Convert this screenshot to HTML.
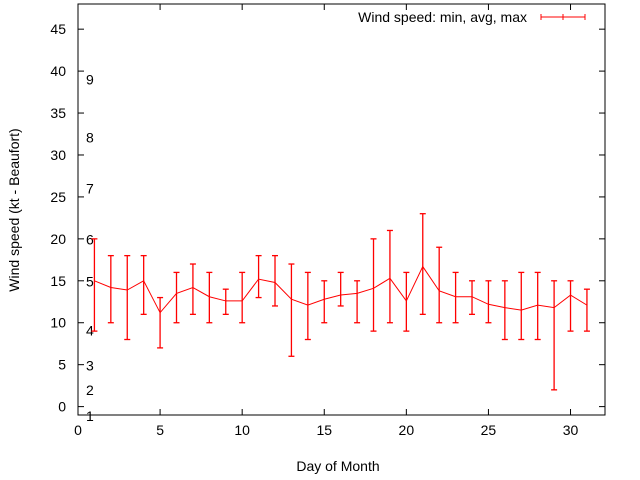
<!DOCTYPE html>
<html><head><meta charset="utf-8"><style>body{margin:0;background:#fff}svg{display:block;font-family:"Liberation Sans",sans-serif}</style></head>
<body>
<svg id="chart" width="640" height="480"></svg>
<script>
const days=[1,2,3,4,5,6,7,8,9,10,11,12,13,14,15,16,17,18,19,20,21,22,23,24,25,26,27,28,29,30,31];
const avgSpeed=[15,14.2,13.9,15,11.2,13.5,14.2,13.1,12.6,12.6,15.2,14.8,12.8,12.1,12.8,13.3,13.5,14.1,15.3,12.6,16.7,13.8,13.1,13.1,12.2,11.8,11.5,12.1,11.8,13.3,12.1];
const minSpeed=[9,10,8,11,7,10,11,10,11,10,13,12,6,8,10,12,10,9,10,9,11,10,10,11,10,8,8,8,2,9,9];
const maxSpeed=[20,18,18,18,13,16,17,16,14,16,18,18,17,16,15,16,15,20,21,16,23,19,16,15,15,15,16,16,15,15,14];
const xTicks=[0,5,10,15,20,25,30];
const yTicks=[0,5,10,15,20,25,30,35,40,45];
const beaufortLabels=["1","2","3","4","5","6","7","8","9"];
const beaufortPos=[-1.1,2,4.9,9.1,14.9,19.9,26,32.1,39];
const L=78,R=605,T=4,B=415,x0=0,x1=32.1,y0=-1,y1=48;
const X=v=>L+(v-x0)/(x1-x0)*(R-L);
const Y=v=>B-(v-y0)/(y1-y0)*(B-T);
const svg=document.getElementById('chart');
const NS='http://www.w3.org/2000/svg';
function mk(tag,a,txt){const e=document.createElementNS(NS,tag);for(const k in a)e.setAttribute(k,a[k]);if(txt!==undefined)e.textContent=txt;svg.appendChild(e);return e;}
let e;
e=mk('rect',{x:L,y:T,width:R-L,height:B-T,fill:'none',stroke:'#000','stroke-width':1});


xTicks.forEach(t=>{
 e=mk('line',{x1:X(t),x2:X(t),y1:B,y2:B-6,stroke:'#000'});
 
 
 e=mk('line',{x1:X(t),x2:X(t),y1:T,y2:T+6,stroke:'#000'});
 
 
 e=mk('text',{x:X(t),y:B+20,'text-anchor':'middle','font-size':14,fill:'#000'},String(t));
 
 
});
yTicks.forEach(t=>{
 e=mk('line',{x1:L,x2:L+6,y1:Y(t),y2:Y(t),stroke:'#000'});
 
 
 e=mk('line',{x1:R,x2:R-6,y1:Y(t),y2:Y(t),stroke:'#000'});
 
 
 e=mk('text',{x:L-12,y:Y(t)+5,'text-anchor':'end','font-size':14,fill:'#000'},String(t));
 
 
});
beaufortLabels.forEach((s,i)=>{
 e=mk('text',{x:86,y:Y(beaufortPos[i])+5,'font-size':14,fill:'#000'},s);
 
 
});
e=mk('text',{x:338,y:471,'text-anchor':'middle','font-size':14},'Day of Month');


e=mk('text',{x:19,y:210,'text-anchor':'middle','font-size':14,transform:'rotate(-90 19 210)'},'Wind speed (kt - Beaufort)');


days.forEach((d,i)=>{
 const x=X(d);
 e=mk('line',{x1:x,x2:x,y1:Y(minSpeed[i]),y2:Y(maxSpeed[i]),stroke:'#f00','stroke-width':1.3});
 
 
 [minSpeed[i],maxSpeed[i]].forEach(v=>{
  e=mk('line',{x1:x-3,x2:x+3,y1:Y(v),y2:Y(v),stroke:'#f00','stroke-width':1.3});
  
  
 });
});
e=mk('polyline',{points:days.map((d,i)=>X(d)+','+Y(avgSpeed[i])).join(' '),fill:'none',stroke:'#f00','stroke-width':1});


e=mk('text',{x:527,y:22,'text-anchor':'end','font-size':14},'Wind speed: min, avg, max');


e=mk('path',{d:'M541,17H585M541,14V20M585,14V20M563,14V20',stroke:'#f00','stroke-width':1,fill:'none'});


</script>
</body></html>
